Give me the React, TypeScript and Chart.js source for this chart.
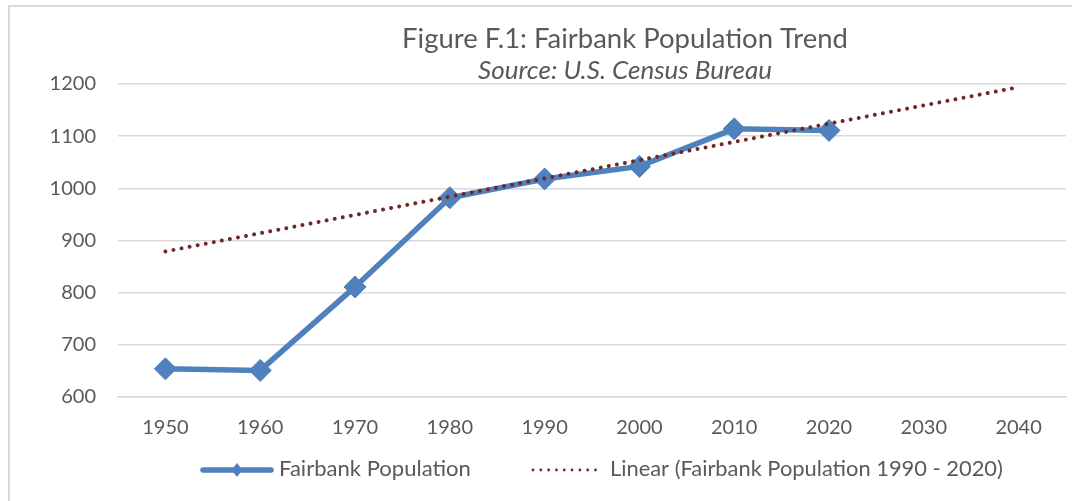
import React, { useEffect, useRef } from 'react';
import { Chart, registerables } from 'chart.js';

Chart.register(...registerables);

const years = ['1950', '1960', '1970', '1980', '1990', '2000', '2010', '2020', '2030', '2040'];
const population = [654, 651, 811, 982, 1018, 1042, 1114, 1111, null, null];
const trend = [879, 914, 949, 984, 1019, 1054, 1089, 1124, 1159, 1194];
const yMin = 600;
const yMax = 1200;
const yStep = 100;
const titleText = 'Figure F.1: Fairbank Population Trend';
const subtitleText = 'Source: U.S. Census Bureau';
const legendLabels = ['Fairbank Population', 'Linear (Fairbank Population 1990 - 2020)'];

const BLUE = '#4f81bd';
const RED = '#722626';
const TEXT = '#595959';
const GRID = '#d9d9d9';
const FONT = 'Lato';

function fitFont(ctx: CanvasRenderingContext2D, text: string, target: number, style: string) {
  ctx.font = `${style} 20px ${FONT}`;
  const w = ctx.measureText(text).width;
  const size = (20 * target) / w;
  ctx.font = `${style} ${size}px ${FONT}`;
  return size;
}

const decor = {
  id: 'decor',
  beforeDraw(chart: any) {
    const ctx = chart.ctx as CanvasRenderingContext2D;
    ctx.save();
    ctx.fillStyle = '#ffffff';
    ctx.fillRect(0, 0, chart.width, chart.height);
    ctx.strokeStyle = GRID;
    ctx.lineWidth = 2;
    ctx.strokeRect(9, 6, chart.width + 20, chart.height + 20);
    ctx.restore();
  },
  afterDraw(chart: any) {
    const ctx = chart.ctx as CanvasRenderingContext2D;
    ctx.save();
    ctx.fillStyle = TEXT;
    ctx.textAlign = 'center';
    ctx.textBaseline = 'alphabetic';
    fitFont(ctx, titleText, 446, 'normal');
    ctx.fillText(titleText, 625, 48);
    fitFont(ctx, subtitleText, 294, 'italic');
    ctx.fillText(subtitleText, 625, 79);

    // legend
    const ly = 470;
    ctx.strokeStyle = BLUE;
    ctx.lineWidth = 5.5;
    ctx.lineCap = 'round';
    ctx.beginPath();
    ctx.moveTo(203, ly);
    ctx.lineTo(271, ly);
    ctx.stroke();
    ctx.fillStyle = BLUE;
    ctx.beginPath();
    ctx.moveTo(237 - 5.5, ly);
    ctx.lineTo(237, ly - 7);
    ctx.lineTo(237 + 5.5, ly);
    ctx.lineTo(237, ly + 7);
    ctx.closePath();
    ctx.fill();

    ctx.strokeStyle = RED;
    ctx.lineWidth = 2.8;
    ctx.setLineDash([0.01, 7.8]);
    ctx.beginPath();
    ctx.moveTo(533, ly);
    ctx.lineTo(603, ly);
    ctx.stroke();
    ctx.setLineDash([]);

    ctx.fillStyle = TEXT;
    ctx.textAlign = 'left';
    ctx.textBaseline = 'middle';
    fitFont(ctx, legendLabels[0], 192, 'normal');
    ctx.fillText(legendLabels[0], 279, ly - 1);
    fitFont(ctx, legendLabels[1], 393, 'normal');
    ctx.fillText(legendLabels[1], 610, ly - 1);
    ctx.restore();
  },
};

export default function App() {
  const ref = useRef<HTMLCanvasElement | null>(null);
  useEffect(() => {
    if (!ref.current) return;
    const chart = new Chart(ref.current, {
      type: 'line',
      data: {
        labels: years,
        datasets: [
          {
            label: legendLabels[1],
            data: trend,
            borderColor: RED,
            borderWidth: 4,
            borderDash: [0.01, 8.2],
            borderCapStyle: 'round',
            pointRadius: 0,
            fill: false,
            tension: 0,
            order: 0,
          },
          {
            label: legendLabels[0],
            data: population,
            borderColor: BLUE,
            backgroundColor: BLUE,
            borderWidth: 5.5,
            pointStyle: 'rectRot',
            pointRadius: 11,
            pointBorderWidth: 1,
            pointBackgroundColor: BLUE,
            pointBorderColor: BLUE,
            fill: false,
            tension: 0,
            order: 1,
          },
        ],
      },
      options: {
        animation: false,
        responsive: false,
        maintainAspectRatio: false,
        layout: { autoPadding: false, padding: { left: 0, right: 6, top: 84, bottom: 0 } },
        plugins: {
          legend: { display: false },
          title: { display: false },
          tooltip: { enabled: false },
        },
        scales: {
          x: {
            type: 'category',
            offset: true,
            grid: { display: false, drawTicks: false },
            border: { display: true, color: GRID, width: 1.5 },
            ticks: { color: TEXT, font: { family: FONT, size: 20 }, padding: 19, maxRotation: 0, autoSkip: false },
            afterFit: (scale: any) => {
              scale.height = 104;
              scale.paddingLeft = 0;
              scale.paddingRight = 0;
            },
          },
          y: {
            min: yMin,
            max: yMax,
            grid: { color: GRID, lineWidth: 1.5, drawTicks: false },
            border: { display: false },
            ticks: {
              stepSize: yStep,
              color: TEXT,
              font: { family: FONT, size: 20 },
              padding: 22,
              callback: (v: any) => String(v),
            },
            afterFit: (scale: any) => {
              scale.width = 118;
            },
          },
        },
      },
      plugins: [decor],
    } as any);
    return () => chart.destroy();
  }, []);
  return (
    <div style={{ position: 'fixed', left: 0, top: 0, width: 1072, height: 501 }}>
      <canvas ref={ref} width={1072} height={501} style={{ width: 1072, height: 501, display: 'block' }} />
    </div>
  );
}
